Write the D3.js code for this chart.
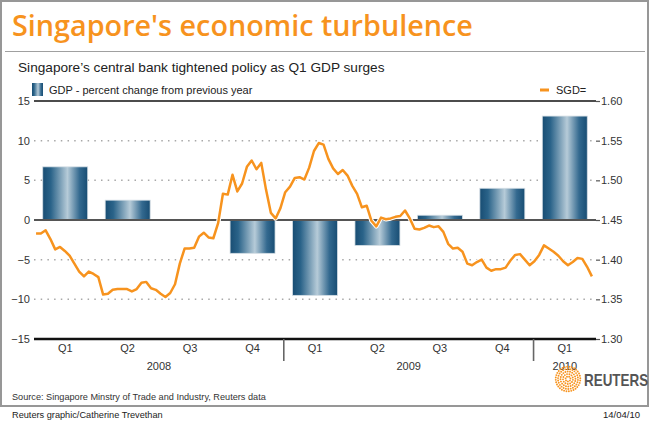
<!DOCTYPE html>
<html>
<head>
<meta charset="utf-8">
<script src="https://cdn.jsdelivr.net/npm/d3@7"></script>
<style>
  body { margin: 0; background: #fff; }
  svg { display: block; font-family: "Liberation Sans", Arial, sans-serif; }
</style>
</head>
<body>
<svg id="chart" width="650" height="425"></svg>
<script>
// quarters on the x axis
var quarterKeys = ["2008Q1", "2008Q2", "2008Q3", "2008Q4", "2009Q1", "2009Q2", "2009Q3", "2009Q4", "2010Q1"]
var quarterLabels = ["Q1", "Q2", "Q3", "Q4", "Q1", "Q2", "Q3", "Q4", "Q1"]
var yearLabels = ["2008", "2009", "2010"]

// GDP, percent change from previous year
var gdpValues = [6.7, 2.5, 0.0, -4.2, -9.5, -3.2, 0.6, 4.0, 13.1]

// SGD= weekly closes, first week ending 4 Jan 2008
var sgdStart = "2008-01-04"
var sgdValues = [
  1.433, 1.433, 1.437, 1.426, 1.413, 1.416, 1.411, 1.405, 1.395, 1.385,
  1.379, 1.385, 1.382, 1.378, 1.356, 1.357, 1.362, 1.363, 1.363, 1.363,
  1.360, 1.363, 1.371, 1.372, 1.364, 1.362, 1.357, 1.353, 1.358, 1.369,
  1.395, 1.414, 1.414, 1.415, 1.429, 1.434, 1.428, 1.427, 1.446, 1.483,
  1.482, 1.507, 1.486, 1.496, 1.517, 1.525, 1.514, 1.522, 1.488, 1.459,
  1.452, 1.465, 1.485, 1.492, 1.503, 1.504, 1.501, 1.516, 1.537, 1.547,
  1.545, 1.527, 1.515, 1.508, 1.513, 1.506, 1.493, 1.483, 1.466, 1.468,
  1.449, 1.442, 1.453, 1.451, 1.452, 1.454, 1.455, 1.462, 1.452, 1.439,
  1.438, 1.440, 1.443, 1.441, 1.442, 1.435, 1.420, 1.414, 1.415, 1.410,
  1.395, 1.393, 1.397, 1.400, 1.390, 1.386, 1.388, 1.388, 1.390, 1.399,
  1.406, 1.407, 1.400, 1.393, 1.398, 1.406, 1.418, 1.414, 1.410, 1.405,
  1.398, 1.393, 1.397, 1.402, 1.401, 1.391, 1.379
]

var gdpTicks = [15, 10, 5, 0, -5, -10, -15]
var sgdTicks = [1.60, 1.55, 1.50, 1.45, 1.40, 1.35, 1.30]

var dimensions = {
  width: 650,
  height: 425,
  margin: { top: 101, bottom: 86, left: 34, right: 54 }
}
var margin = dimensions.margin
var x0 = margin.left, x1 = dimensions.width - margin.right
var yTop = margin.top, yBottom = dimensions.height - margin.bottom

var orange = "#f7931e"

var svg = d3.select("#chart")

// squeeze a text to the width it has in the reference
function fitWidth(sel, w) {
  var cur = sel.node().getComputedTextLength()
  var fs = parseFloat(sel.style("font-size"))
  sel.style("font-size", (fs * w / cur) + "px")
}

// frame + header
svg.append("rect")
  .attr("x", 1).attr("y", 1)
  .attr("width", 647).attr("height", 405)
  .attr("fill", "none")
  .attr("stroke", "#979797")
  .attr("stroke-width", 2)

var title = svg.append("text")
  .attr("x", 12).attr("y", 36)
  .style("font-family", "'Open Sans', sans-serif")
  .style("font-weight", 600)
  .style("font-size", "28px")
  .attr("fill", orange)
  .text("Singapore's economic turbulence")
fitWidth(title, 461)

svg.append("line")
  .attr("x1", 5).attr("x2", 645)
  .attr("y1", 51.5).attr("y2", 51.5)
  .attr("stroke", "#a0a0a0")

var subtitle = svg.append("text")
  .attr("x", 18).attr("y", 72)
  .style("font-size", "13px")
  .attr("fill", "#222")
  .text("Singapore\u2019s central bank tightened policy as Q1 GDP surges")
fitWidth(subtitle, 367)

// bar gradient
var defs = svg.append("defs")
var grad = defs.append("linearGradient")
  .attr("id", "barGrad")
  .attr("x1", "0%").attr("x2", "100%")
  .attr("y1", "0%").attr("y2", "0%")
var stops = [[0, "#184d73"], [0.18, "#2a6389"], [0.55, "#b6cbd8"], [0.82, "#33698f"], [1, "#184d73"]]
stops.forEach(function(s) {
  grad.append("stop").attr("offset", s[0]).attr("stop-color", s[1])
})

// scales
var xScale = d3.scaleBand()
  .domain(quarterKeys)
  .range([x0, x1])
  .paddingInner(0.28)
  .paddingOuter(0.14)

var parseDay = d3.timeParse("%Y-%m-%d")
var xTime = d3.scaleTime()
  .domain([parseDay("2008-01-01"), parseDay("2010-04-01")])
  .range([x0, x1])

var yGdp = d3.scaleLinear().domain([-15, 15]).range([yBottom, yTop])
var ySgd = d3.scaleLinear().domain([1.30, 1.60]).range([yBottom, yTop])

// dotted gridlines
svg.append("g")
  .selectAll("line")
  .data(gdpTicks.filter(d => d != 15 && d != 0 && d != -15))
  .enter()
  .append("line")
  .attr("x1", x0).attr("x2", x1)
  .attr("y1", d => yGdp(d)).attr("y2", d => yGdp(d))
  .attr("stroke", "#a8a8a8")
  .attr("stroke-width", 1.5)
  .attr("stroke-dasharray", "1.5,5.2")

// legend
svg.append("rect")
  .attr("x", 32).attr("y", 83)
  .attr("width", 11).attr("height", 13)
  .attr("fill", "url(#barGrad)")
svg.append("text")
  .attr("x", 49).attr("y", 94)
  .style("font-size", "11px")
  .attr("fill", "#222")
  .text("GDP - percent change from previous year")
svg.append("line")
  .attr("x1", 540).attr("x2", 549)
  .attr("y1", 90).attr("y2", 90)
  .attr("stroke", orange)
  .attr("stroke-width", 3)
svg.append("text")
  .attr("x", 556).attr("y", 94)
  .style("font-size", "11px")
  .attr("fill", "#222")
  .text("SGD=")

// bars
svg.append("g")
  .selectAll("rect")
  .data(gdpValues)
  .enter()
  .append("rect")
  .attr("x", (d, i) => xScale(quarterKeys[i]))
  .attr("width", xScale.bandwidth())
  .attr("y", d => yGdp(Math.max(0, d)))
  .attr("height", d => Math.abs(yGdp(d) - yGdp(0)))
  .attr("fill", "url(#barGrad)")
  .attr("stroke", "#d3dde4")
  .attr("stroke-width", 0.8)

// solid rules at 15, 0, -15
svg.append("line")
  .attr("x1", x0).attr("x2", x1)
  .attr("y1", yGdp(15)).attr("y2", yGdp(15))
  .attr("stroke", "#111").attr("stroke-width", 1.6)
svg.append("line")
  .attr("x1", x0).attr("x2", x1)
  .attr("y1", yGdp(0)).attr("y2", yGdp(0))
  .attr("stroke", "#555").attr("stroke-width", 2.2)
svg.append("line")
  .attr("x1", x0).attr("x2", x1)
  .attr("y1", yGdp(-15)).attr("y2", yGdp(-15))
  .attr("stroke", "#111").attr("stroke-width", 2.4)

// axes
var leftAxis = svg.append("g")
  .attr("transform", "translate(" + x0 + ",0)")
  .call(d3.axisLeft(yGdp).tickValues(gdpTicks).tickSize(0).tickPadding(4))
leftAxis.select(".domain").remove()

var rightAxis = svg.append("g")
  .attr("transform", "translate(" + x1 + ",0)")
  .call(d3.axisRight(ySgd).tickValues(sgdTicks).tickSize(4).tickPadding(1).tickFormat(d3.format(".2f")))
rightAxis.select(".domain").remove()

svg.selectAll(".tick text")
  .style("font-family", "'Liberation Sans', Arial, sans-serif")
  .style("font-size", "11px")
  .attr("fill", "#333")
rightAxis.selectAll(".tick line").attr("stroke", "#555").attr("stroke-width", 1.2)

// quarter + year labels
var step = xScale.step()
svg.append("g")
  .selectAll("text")
  .data(quarterKeys)
  .enter()
  .append("text")
  .attr("x", d => xScale(d) + xScale.bandwidth() / 2)
  .attr("y", 352)
  .attr("text-anchor", "middle")
  .style("font-size", "11px")
  .attr("fill", "#333")
  .text((d, i) => quarterLabels[i])

var yearSpans = yearLabels.map(function(yr) {
  var keys = quarterKeys.filter(k => k.slice(0, 4) == yr)
  var left = xScale(keys[0]) - (step - xScale.bandwidth()) / 2
  var right = xScale(keys[keys.length - 1]) + xScale.bandwidth() + (step - xScale.bandwidth()) / 2
  return { year: yr, left: left, right: right }
})

svg.append("g")
  .selectAll("text")
  .data(yearSpans)
  .enter()
  .append("text")
  .attr("x", d => (d.left + d.right) / 2)
  .attr("y", 370)
  .attr("text-anchor", "middle")
  .style("font-size", "11px")
  .attr("fill", "#333")
  .text(d => d.year)

svg.append("g")
  .selectAll("line")
  .data(yearSpans.slice(1))
  .enter()
  .append("line")
  .attr("x1", d => d.left).attr("x2", d => d.left)
  .attr("y1", yBottom).attr("y2", 361)
  .attr("stroke", "#666")
  .attr("stroke-width", 1.6)

// SGD line
var sgdData = sgdValues.map(function(v, i) {
  return { date: d3.timeDay.offset(parseDay(sgdStart), 7 * i), value: v }
})
var lineGen = d3.line()
  .x(d => xTime(d.date))
  .y(d => ySgd(d.value))

svg.append("path")
  .datum(sgdData)
  .attr("d", lineGen)
  .attr("fill", "none")
  .attr("stroke", "#fff")
  .attr("stroke-width", 4.5)
  .attr("stroke-linejoin", "round")
svg.append("path")
  .datum(sgdData)
  .attr("d", lineGen)
  .attr("fill", "none")
  .attr("stroke", orange)
  .attr("stroke-width", 2.5)
  .attr("stroke-linejoin", "round")

// source + logo
var source = svg.append("text")
  .attr("x", 12).attr("y", 400)
  .style("font-size", "10px")
  .attr("fill", "#333")
  .text("Source: Singapore Minstry of Trade and Industry, Reuters data")
fitWidth(source, 254)

var logo = svg.append("g").attr("transform", "translate(568,379)")
;[2.5, 5, 7.5, 10, 12.3].forEach(function(r) {
  var n = Math.round(2 * Math.PI * r / 2.4)
  for (var k = 0; k < n; k++) {
    var a = 2 * Math.PI * k / n + r
    logo.append("circle")
      .attr("cx", r * Math.cos(a)).attr("cy", r * Math.sin(a))
      .attr("r", 0.95)
      .attr("fill", orange)
  }
})
// condensed wordmark: shrink horizontally only
svg.append("text")
  .attr("transform", "translate(584,386) scale(0.84,1)")
  .style("font-size", "16px")
  .style("font-weight", "bold")
  .attr("fill", "#555")
  .text("REUTERS")

// footer
var credit = svg.append("text")
  .attr("x", 12).attr("y", 418)
  .style("font-size", "10px")
  .attr("fill", "#222")
  .text("Reuters graphic/Catherine Trevethan")
fitWidth(credit, 151)
svg.append("text")
  .attr("x", 640).attr("y", 418)
  .attr("text-anchor", "end")
  .style("font-size", "9.5px")
  .attr("fill", "#222")
  .text("14/04/10")
</script>
</body>
</html>
